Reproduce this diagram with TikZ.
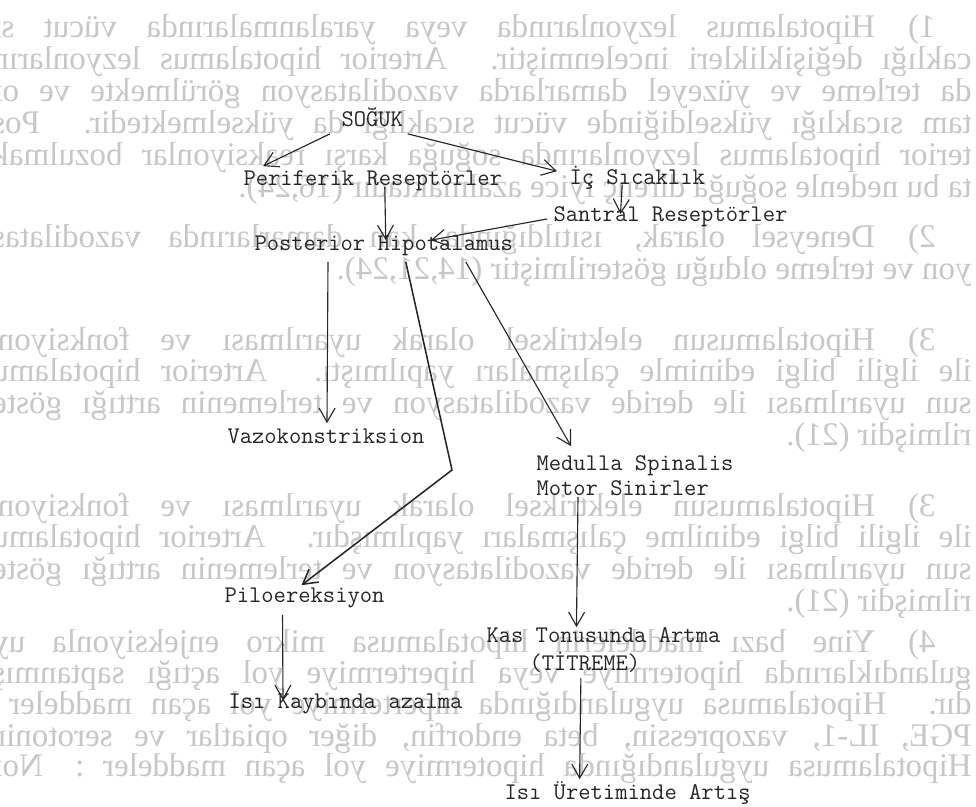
\documentclass[tikz,border=0pt]{standalone}
\usepackage{fontspec}
\newfontfamily\bgfont{Liberation Serif}
\usetikzlibrary{arrows.meta}
\usetikzlibrary{calc}

\tikzset{
  lbl/.style={font=\ttfamily\fontsize{17}{20}\selectfont, text=black!85, inner sep=3pt, text height=0.7em, text depth=0.2em, anchor=west},
  arr/.style={-{Straight Barb[length=3.5mm, width=4mm]}, line width=0.8pt, draw=black!85},
  bgline/.style={anchor=west, inner sep=0pt, transform shape, text=black!22, font=\bgfont\fontsize{23.5}{27}\selectfont},
}
\newcommand{\fullline}[1]{\makebox[24.75cm][s]{#1}}
\newcommand{\firstline}[1]{\makebox[23.85cm][s]{#1}}

\begin{document}
\begin{tikzpicture}[x=0.025cm, y=-0.025cm]
\fill[white] (0,0) rectangle (976,807);
\path[use as bounding box] (0,0) rectangle (976,807);

% text of the back page, showing through
\begin{scope}
\clip (0,0) rectangle (976,807);
\begin{scope}[shift={(976,0)}, xscale=-1]
  \node[bgline] at (40,30) {\firstline{1)\quad Hipotalamus lezyonlarında veya yaralanmalarında vücut sı-}};
  \node[bgline] at (4,62) {\fullline{caklığı değişiklikleri incelenmiştir. Arterior hipotalamus lezyonların-}};
  \node[bgline] at (4,94) {\fullline{da terleme ve yüzeyel damarlarda vazodilatasyon görülmekte ve or-}};
  \node[bgline] at (4,126) {\fullline{tam sıcaklığı yükseldiğinde vücut sıcaklığı da yükselmektedir. Pos-}};
  \node[bgline] at (4,158) {\fullline{terior hipotalamus lezyonlarında soğuğa karşı reaksiyonlar bozulmak-}};
  \node[bgline] at (4,190) {ta bu nedenle soğuğa direnç iyice azalmaktadır (16,24).};
  \node[bgline] at (40,240) {\firstline{2)\quad Deneysel olarak, ısıtıldığında kan damarlarında vazodilatas-}};
  \node[bgline] at (4,272) {yon ve terleme olduğu gösterilmiştir (14,21,24).};
  \node[bgline] at (40,342) {\firstline{3)\quad Hipotalamusun elektriksel olarak uyarılması ve fonksiyonu}};
  \node[bgline] at (4,374) {\fullline{ile ilgili bilgi edinimle çalışmaları yapılmıştı. Arterior hipotalamu-}};
  \node[bgline] at (4,406) {\fullline{sun uyarılması ile deride vazodilatasyon ve terlemenin arttığı göste-}};
  \node[bgline] at (4,438) {rilmişdir (21).};
  \node[bgline] at (40,508) {\firstline{3)\quad Hipotalamusun elektriksel olarak uyarılması ve fonksiyonu}};
  \node[bgline] at (4,540) {\fullline{ile ilgili bilgi edinilme çalışmaları yapılmışdır. Arterior hipotalamu-}};
  \node[bgline] at (4,572) {\fullline{sun uyarılması ile deride vazodilatasyon ve terlemenin arttığı göste-}};
  \node[bgline] at (4,604) {rilmişdir (21).};
  \node[bgline] at (40,645) {\firstline{4)\quad Yine bazı maddelerin hipotalamusa mikro enjeksiyonla uy-}};
  \node[bgline] at (4,676) {\fullline{gulandıklarında hipotermiye veya hipertermiye yol açtığı saptanmış-}};
  \node[bgline] at (4,707) {\fullline{dır. Hipotalamusa uygulandığında hipertermiye yol açan maddeler :}};
  \node[bgline] at (4,738) {\fullline{PGE, IL-1, vazopressin, beta endorfin, diğer opiatlar ve serotonin.}};
  \node[bgline] at (4,769) {\fullline{Hipotalamusa uygulandığında hipotermiye yol açan maddeler : Nor-}};
\end{scope}
\end{scope}

% diagram
\node[lbl] (soguk) at (337,123) {SOĞUK};
\node[lbl] (perif) at (239,182) {Periferik Reseptörler};
\node[lbl] (ic) at (565,181) {İç Sıcaklık};
\node[lbl] (santral) at (549,218) {Santral Reseptörler};
\node[lbl] (post) at (250,247) {Posterior Hipotalamus};
\node[lbl] (vazo) at (223,440) {Vazokonstriksion};
\node[lbl] (medulla) at (532,467) {Medulla Spinalis};
\node[lbl] (motor) at (532,492) {Motor Sinirler};
\node[lbl] (pilo) at (220,599) {Piloereksiyon};
\node[lbl] (kas) at (482,639) {Kas Tonusunda Artma};
\node[lbl] (titreme) at (525,667) {(TİTREME)};
\node[lbl] (kayip) at (224,705) {Isı Kaybında azalma};
\node[lbl] (uretim) at (500,796) {Isı Üretiminde Artış};

\draw[arr] ($(soguk.south west)+(-7,0)$) -- ($(perif.north west)+(24,-5)$);
\draw[arr] (soguk.south east) -- ($(ic.north west)+(-8,1)$);
\draw[arr] ($(perif.south)+(12,-6)$) -- ($(post.north)+(2,4)$);
\draw[arr] ($(ic.south)+(-15,-7)$) -- ($(santral.north)+(-50,7)$);
\draw[arr] ($(santral.west)+(-2,1)$) -- ($(post.north)+(47,4)$);
\draw[arr] ($(post.south west)+(78,4)$) -- ($(vazo.north)+(1,-6)$);
\coordinate (kink) at (452,470);
\draw[arr, line width=1.1pt] ($(post.south)+(22,4)$) -- (kink) -- ($(pilo.north)+(-3,-3)$);
\draw[arr] ($(post.south)+(82,4)$) -- ($(medulla.north west)+(39,-10)$);
\draw[arr] ($(motor.south west)+(46,-6)$) -- ($(kas.north)+(-27,-1)$);
\draw[arr] ($(pilo.south)+(-22,5)$) -- ($(kayip.north west)+(59,6)$);
\draw[arr] ($(titreme.south)+(-4,0)$) -- ($(uretim.north)+(-48,-6)$);
\end{tikzpicture}
\end{document}
